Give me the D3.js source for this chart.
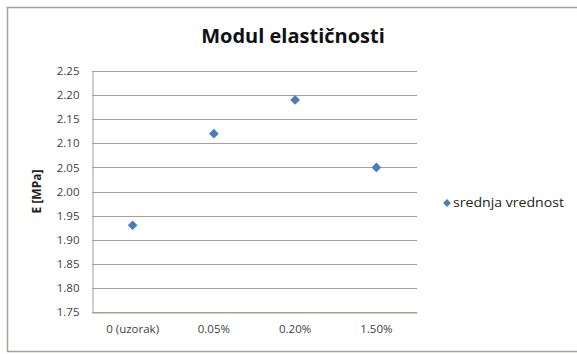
<!DOCTYPE html>
<html>
<head>
<meta charset="utf-8">
<script src="https://cdn.jsdelivr.net/npm/d3@7"></script>
<style>
  html, body { margin: 0; padding: 0; background: #fff; }
  svg { display: block; }
</style>
</head>
<body>
<script>
// Data
const categories = ["0 (uzorak)", "0.05%", "0.20%", "1.50%"];
const values = [1.93, 2.12, 2.19, 2.05];
const yTicks = [1.75, 1.80, 1.85, 1.90, 1.95, 2.00, 2.05, 2.10, 2.15, 2.20, 2.25];
const seriesName = "srednja vrednost";
const chartTitle = "Modul elastičnosti";
const yTitle = "E [MPa]";

const W = 577, H = 354;
const plot = { left: 92, right: 417, top: 71, bottom: 312 };
const gridColor = "#a89e98";
const markColor = "#4a7ebb";
const textColor = "#404040";
const font = "'Open Sans', 'Liberation Sans', Arial, sans-serif";

const svg = d3.select("body").append("svg")
  .attr("width", W).attr("height", H);

// Chart frame
svg.append("rect")
  .attr("x", 7.5).attr("y", 7.5)
  .attr("width", W).attr("height", 344)
  .attr("fill", "#fff")
  .attr("stroke", "#a8a09c").attr("stroke-width", 1.5);

const x = d3.scaleBand().domain(categories)
  .range([plot.left, plot.right]);
const y = d3.scaleLinear().domain([1.75, 2.25])
  .range([plot.bottom, plot.top]);

// Horizontal gridlines
svg.append("g")
  .selectAll("line").data(yTicks).join("line")
  .attr("x1", plot.left).attr("x2", plot.right)
  .attr("y1", d => Math.round(y(d)) + 0.5)
  .attr("y2", d => Math.round(y(d)) + 0.5)
  .attr("stroke", gridColor).attr("stroke-width", 1);

// Y axis
const yAxis = svg.append("g")
  .attr("transform", `translate(${plot.left + 0.5},0)`)
  .call(d3.axisLeft(y).tickValues(yTicks).tickFormat(d3.format(".2f")).tickSize(0).tickPadding(13));
yAxis.select(".domain").attr("stroke", gridColor);
yAxis.selectAll("text")
  .attr("font-family", font).attr("font-size", 11.5).attr("fill", textColor);

// X axis
const xAxis = svg.append("g")
  .attr("transform", `translate(0,${Math.round(plot.bottom) + 0.5})`)
  .call(d3.axisBottom(x).tickSize(0).tickPadding(12));
xAxis.select(".domain").attr("stroke", gridColor);
xAxis.selectAll("text")
  .attr("font-family", font).attr("font-size", 11.5).attr("fill", textColor);

// Markers
const diamond = d3.symbol().type(d3.symbolDiamond2).size(60);
svg.append("g")
  .selectAll("path").data(values).join("path")
  .attr("d", diamond)
  .attr("transform", (d, i) => `translate(${x(categories[i]) + x.bandwidth() / 2},${y(d)})`)
  .attr("fill", markColor);

// Title
svg.append("text")
  .attr("x", 293).attr("y", 43)
  .attr("text-anchor", "middle")
  .attr("font-family", font).attr("font-weight", "bold").attr("font-size", 20)
  .attr("fill", "#111")
  .text(chartTitle);

// Y axis title
svg.append("text")
  .attr("transform", `translate(41,${(plot.top + plot.bottom) / 2}) rotate(-90)`)
  .attr("text-anchor", "middle")
  .attr("font-family", font).attr("font-weight", "bold").attr("font-size", 12)
  .attr("fill", "#222")
  .text(yTitle);

// Legend
const legend = svg.append("g").attr("transform", "translate(447,203)");
legend.append("path").attr("d", d3.symbol().type(d3.symbolDiamond2).size(40)).attr("fill", markColor);
legend.append("text")
  .attr("x", 6).attr("y", 4)
  .attr("font-family", font).attr("font-size", 12).attr("fill", "#222")
  .attr("textLength", 111).attr("lengthAdjust", "spacingAndGlyphs")
  .text(seriesName);
</script>
</body>
</html>
